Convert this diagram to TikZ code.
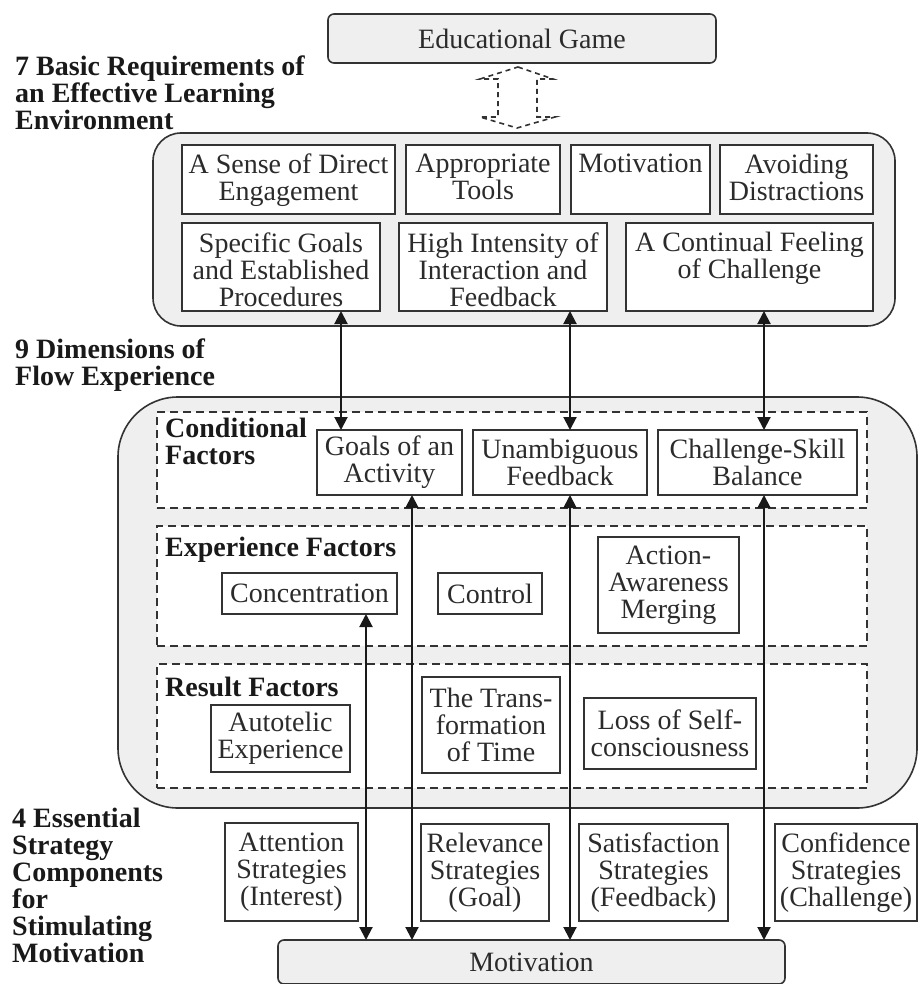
\documentclass[tikz,border=0pt]{standalone}
\usepackage{fontspec}
\setmainfont{Liberation Serif}
\usetikzlibrary{arrows.meta}
\definecolor{linec}{HTML}{333333}
\definecolor{grayfill}{HTML}{EFEFEF}
\definecolor{txtc}{HTML}{2B2B2B}
% \BX[style]{name}{left}{top}{right}{bottom}{text}
\newcommand\BX[7][bx]{\node[#1,minimum width={(#5)-(#3)},minimum height={(#6)-(#4)}] (#2) at ({((#3)+(#5))/2},{((#4)+(#6))/2}) {#7};}
\begin{document}
\begin{tikzpicture}[x=1pt,y=-1pt,
  every node/.style={font=\fontsize{28}{27}\selectfont, text=txtc},
  bx/.style={draw=linec, line width=1.8pt, fill=white, inner sep=0pt, outer sep=0pt, align=center},
  grp/.style={draw=linec, line width=1.6pt, fill=grayfill, inner sep=0pt, outer sep=0pt, align=center},
  grpa/.style={grp, rounded corners=6pt},
  grpb/.style={grp, rounded corners=28pt},
  grpc/.style={grp, rounded corners=60pt},
  dbox/.style={draw=linec, line width=1.6pt, fill=white, dash pattern=on 8pt off 5pt, inner sep=0pt},
  hd/.style={font=\bfseries\fontsize{28}{27}\selectfont, align=left, anchor=west, inner sep=0pt, text=black!90},
  rt/.style={align=center, anchor=north, inner sep=0pt},
  biarrow/.style={line width=2pt, draw=black!90, {Triangle[length=13pt,width=13pt]}-{Triangle[length=13pt,width=13pt]}},
]
\useasboundingbox (0,0) rectangle (919,984);

% top
\BX[grpa]{edu}{328}{14}{716}{63}{Educational Game}
\draw[line width=1.6pt, draw=linec, dash pattern=on 5pt off 4pt]
  (518,67) -- (553,79) -- (537,79) -- (537,117) -- (555,117) -- (517,128)
  -- (480,117) -- (498,117) -- (498,79) -- (480,79) -- cycle;

% labels
\node[hd] (l7) at (15,92.5) {7 Basic Requirements of\\an Effective Learning\\Environment};
\node[hd] (l9) at (15,365) {9 Dimensions of\\Flow Experience};
\node[hd] (l4) at (12,885) {4 Essential\\Strategy\\Components\\for\\Stimulating\\Motivation};

% requirements
\BX[grpb]{req}{153}{133}{895}{326}{}
\BX{sense}{182}{145}{395}{214}{}
\node[rt] (senseT) at ([yshift=-9pt]sense.north) {A Sense of Direct\\Engagement};
\BX{tools}{406}{145}{560}{214}{}
\node[rt] (toolsT) at ([yshift=-9pt]tools.north) {Appropriate\\Tools};
\BX{motiv}{571}{145}{710}{214}{}
\node[rt] (motivT) at ([yshift=-9pt]motiv.north) {Motivation};
\BX{avoid}{720}{145}{873}{214}{}
\node[rt] (avoidT) at ([yshift=-9pt]avoid.north) {Avoiding\\Distractions};
\BX{goals}{182}{223}{380}{311}{}
\node[rt] (goalsT) at ([yshift=-10pt]goals.north) {Specific Goals\\and Established\\Procedures};
\BX{inten}{399}{223}{607}{311}{}
\node[rt] (intenT) at ([yshift=-10pt]inten.north) {High Intensity of\\Interaction and\\Feedback};
\BX{chall}{626}{223}{873}{311}{}
\node[rt] (challT) at ([yshift=-9pt]chall.north) {A Continual Feeling\\of Challenge};

% flow
\BX[grpc]{flow}{118}{397}{917}{808}{}
\BX[dbox]{cond}{157}{412}{867}{508}{}
\BX[dbox]{expf}{157}{526}{867}{646}{}
\BX[dbox]{resf}{157}{664}{867}{788}{}
\node[hd] (condL) at (165,441) {Conditional\\Factors};
\node[hd] (expL) at (165,550) {Experience Factors};
\node[hd] (resL) at (165,687) {Result Factors};

\BX{goalsact}{317}{430}{462}{495}{Goals of an\\Activity}
\BX{unamb}{473}{430}{647}{495}{Unambiguous\\Feedback}
\BX{csb}{658}{430}{857}{495}{Challenge-Skill\\Balance}
\BX{conc}{222}{573}{397}{614}{Concentration}
\BX{ctrl}{438}{573}{542}{614}{Control}
\BX{aam}{598}{537}{739}{633}{Action-\\Awareness\\Merging}
\BX{auto}{211}{705}{350}{772}{Autotelic\\Experience}
\BX{trans}{422}{677}{560}{773}{The Trans-\\formation\\of Time}
\BX{loss}{584}{698}{756}{769}{Loss of Self-\\consciousness}

% strategies
\BX{att}{225}{823}{358}{921}{Attention\\Strategies\\(Interest)}
\BX{rel}{421}{824}{549}{921}{Relevance\\Strategies\\(Goal)}
\BX{sat}{579}{824}{728}{921}{Satisfaction\\Strategies\\(Feedback)}
\BX{conf}{775}{824}{917}{921}{Confidence\\Strategies\\(Challenge)}

\BX[grpa]{mot}{278}{940}{785}{984}{Motivation}

% arrows
\coordinate (xa) at (341,0);
\coordinate (xb) at (570,0);
\coordinate (xc) at (764,0);
\coordinate (xd) at (366,0);
\coordinate (xe) at (412,0);
\draw[biarrow] (goals.south -| xa) -- (goalsact.north -| xa);
\draw[biarrow] (inten.south -| xb) -- (unamb.north -| xb);
\draw[biarrow] (chall.south -| xc) -- (csb.north -| xc);
\draw[biarrow] (conc.south -| xd) -- (mot.north -| xd);
\draw[biarrow] (goalsact.south -| xe) -- (mot.north -| xe);
\draw[biarrow] (unamb.south -| xb) -- (mot.north -| xb);
\draw[biarrow] (csb.south -| xc) -- (mot.north -| xc);
\end{tikzpicture}
\end{document}
